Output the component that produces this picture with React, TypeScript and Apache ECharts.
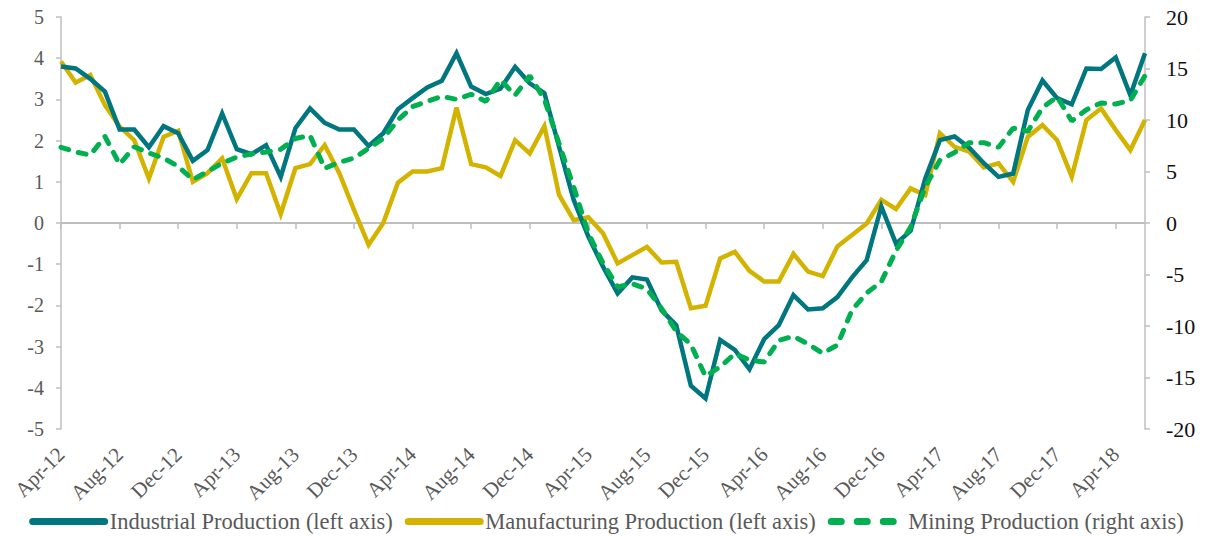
import React, { useEffect, useRef } from "react";
import * as echarts from "echarts";

const monthNames = ["Jan", "Feb", "Mar", "Apr", "May", "Jun", "Jul", "Aug", "Sep", "Oct", "Nov", "Dec"];
const startMonth = 3; // Apr
const startYear = 12;
const monthCount = 75; // Apr-12 .. Jun-18

const categories: string[] = [];
for (let i = 0; i < monthCount; i++) {
  const m = (startMonth + i) % 12;
  const y = startYear + Math.floor((startMonth + i) / 12);
  categories.push(`${monthNames[m]}-${y}`);
}

const industrial = [
  3.8, 3.75, 3.5, 3.19, 2.27, 2.27, 1.84, 2.35, 2.18, 1.51, 1.77, 2.66, 1.79, 1.67,
  1.89, 1.12, 2.3, 2.78, 2.43, 2.27, 2.27, 1.87, 2.18, 2.76, 3.03, 3.29, 3.45, 4.12,
  3.31, 3.13, 3.26, 3.79, 3.39, 3.15, 1.85, 0.56, -0.33, -1.06, -1.71, -1.32, -1.37,
  -2.12, -2.48, -3.95, -4.26, -2.84, -3.08, -3.55, -2.82, -2.48, -1.75, -2.1, -2.07,
  -1.8, -1.32, -0.9, 0.4, -0.5, -0.19, 1.08, 2.01, 2.1, 1.83, 1.45, 1.12, 1.2, 2.74,
  3.46, 3.03, 2.88, 3.75, 3.74, 4.02, 3.1, 4.12,
];

const manufacturing = [
  3.92, 3.41, 3.59, 2.86, 2.34, 2.01, 1.08, 2.09, 2.24, 1.0, 1.21, 1.57, 0.58, 1.21,
  1.21, 0.22, 1.33, 1.43, 1.89, 1.21, 0.32, -0.53, 0.0, 0.98, 1.25, 1.25, 1.33, 2.8,
  1.43, 1.35, 1.14, 2.01, 1.69, 2.35, 0.68, 0.07, 0.14, -0.25, -0.98, -0.78, -0.58,
  -0.96, -0.94, -2.07, -2.01, -0.86, -0.7, -1.16, -1.42, -1.42, -0.75, -1.18, -1.29,
  -0.57, -0.29, -0.01, 0.56, 0.34, 0.84, 0.68, 2.18, 1.85, 1.73, 1.35, 1.45, 1.0, 2.09,
  2.38, 2.01, 1.12, 2.5, 2.78, 2.26, 1.77, 2.5,
];

const mining = [
  7.35, 6.9, 6.6, 8.4, 5.7, 7.4, 6.8, 6.3, 5.5, 4.2, 5.0, 5.8, 6.4, 6.7,
  6.9, 7.15, 8.2, 8.5, 5.3, 5.9, 6.3, 7.25, 8.2, 10.0, 11.3, 11.8, 12.3, 12.0,
  12.5, 11.8, 13.9, 12.4, 14.3, 12.0, 7.7, 3.5, -1.0, -3.9, -6.2, -5.9, -6.4,
  -8.3, -10.5, -11.8, -14.9, -13.95, -12.7, -13.3, -13.5, -11.4, -11.0, -11.75, -12.65,
  -11.85, -8.45, -6.8, -5.7, -2.7, -0.4, 3.5, 6.1, 6.85, 7.8, 7.8, 7.35, 9.2, 8.9,
  11.2, 12.25, 9.9, 11.0, 11.65, 11.55, 11.9, 14.3,
];

const seriesNames = [
  "Industrial Production (left axis)",
  "Manufacturing Production (left axis)",
  "Mining Production (right axis)",
];

const FONT = "Liberation Serif";
const GRAY = "#595959";
const AXIS = "#bfbfbf";

export default function App() {
  const ref = useRef<HTMLDivElement>(null);

  useEffect(() => {
    if (!ref.current) return;
    const chart = echarts.init(ref.current, undefined, { renderer: "svg" });
    chart.setOption({
      animation: false,
      backgroundColor: "#ffffff",
      textStyle: { fontFamily: FONT },
      grid: { left: 61, right: 68, top: 17, bottom: 107 },
      legend: {
        top: 505,
        left: "center",
        itemWidth: 72,
        itemHeight: 10,
        itemGap: 12,
        textStyle: { fontFamily: FONT, fontSize: 22.5, color: GRAY },
        itemStyle: { opacity: 0 },
        lineStyle: { width: 7, cap: "round" },
        data: [
          { name: seriesNames[0] },
          { name: seriesNames[1] },
          { name: seriesNames[2], lineStyle: { width: 7, type: [10, 16], cap: "round" } },
        ],
      },
      xAxis: [
        {
          type: "category",
          data: categories,
          boundaryGap: false,
          axisLine: { show: true, onZero: true, lineStyle: { color: AXIS, width: 2 } },
          axisTick: { show: true, interval: 3, length: 6, lineStyle: { color: AXIS, width: 1.5 } },
          axisLabel: { show: false },
          splitLine: { show: false },
        },
        {
          type: "category",
          data: categories,
          boundaryGap: false,
          position: "bottom",
          axisLine: { show: false, onZero: false },
          axisTick: { show: false },
          axisLabel: {
            show: true,
            interval: 3,
            rotate: 45,
            margin: 22,
            fontFamily: FONT,
            fontSize: 21,
            color: GRAY,
          },
          splitLine: { show: false },
        },
      ],
      yAxis: [
        {
          type: "value",
          min: -5,
          max: 5,
          interval: 1,
          position: "left",
          axisLine: { show: true, lineStyle: { color: AXIS, width: 1.5 } },
          axisTick: { show: true, length: 5, lineStyle: { color: AXIS, width: 1.5 } },
          axisLabel: { fontFamily: FONT, fontSize: 20, color: GRAY, margin: 17 },
          splitLine: { show: false },
        },
        {
          type: "value",
          min: -20,
          max: 20,
          interval: 5,
          position: "right",
          axisLine: { show: true, lineStyle: { color: AXIS, width: 1.5 } },
          axisTick: { show: true, length: 5, lineStyle: { color: AXIS, width: 1.5 } },
          axisLabel: { fontFamily: FONT, fontSize: 22, color: "#111111", margin: 21 },
          splitLine: { show: false },
        },
      ],
      series: [
        {
          name: seriesNames[0],
          type: "line",
          data: industrial,
          xAxisIndex: 0,
          yAxisIndex: 0,
          symbol: "none",
          lineStyle: { color: "#00767f", width: 4.5, join: "miter" },
          itemStyle: { color: "#00767f" },
          z: 3,
        },
        {
          name: seriesNames[1],
          type: "line",
          data: manufacturing,
          xAxisIndex: 0,
          yAxisIndex: 0,
          symbol: "none",
          lineStyle: { color: "#d4b300", width: 4.5, join: "miter" },
          itemStyle: { color: "#d4b300" },
          z: 2,
        },
        {
          name: seriesNames[2],
          type: "line",
          data: mining,
          xAxisIndex: 0,
          yAxisIndex: 1,
          symbol: "none",
          lineStyle: { color: "#00b050", width: 5, type: [8, 10], cap: "round" },
          itemStyle: { color: "#00b050" },
          z: 4,
        },
      ],
    });
    return () => chart.dispose();
  }, []);

  return (
    <div
      ref={ref}
      style={{ position: "fixed", left: 0, top: 0, width: 1213, height: 536, background: "#fff" }}
    />
  );
}
